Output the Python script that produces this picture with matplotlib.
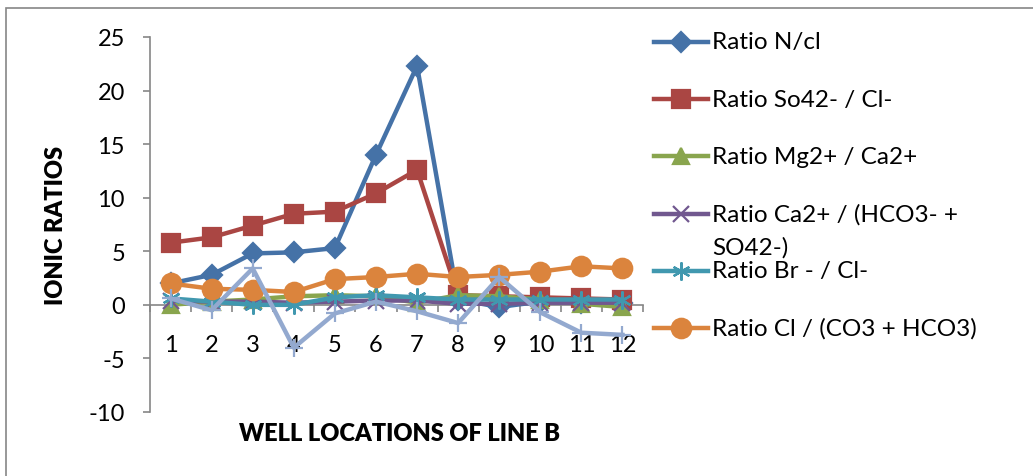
import matplotlib
matplotlib.use("Agg")
import matplotlib.pyplot as plt
from matplotlib.lines import Line2D
from matplotlib.patches import Rectangle
import numpy as np

# Well numbers along line B
wells = list(range(1, 13))

# Ionic ratios per well
ratio_n_cl = [2.0, 2.8, 4.8, 4.9, 5.3, 14.0, 22.3, 0.5, -0.2, 0.3, 0.2, 0.2]
ratio_so4_cl = [5.8, 6.3, 7.4, 8.5, 8.7, 10.4, 12.6, 0.9, 0.8, 0.7, 0.6, 0.5]
ratio_mg_ca = [0.0, 0.3, 0.5, 0.8, 0.9, 0.8, 0.2, 0.9, 0.8, 0.5, 0.1, -0.2]
ratio_ca_hco3_so4 = [0.4, 0.3, 0.3, 0.2, 0.3, 0.4, 0.4, 0.1, 0.1, 0.2, 0.2, 0.2]
ratio_br_cl = [0.6, 0.3, 0.0, 0.0, 0.7, 0.9, 0.7, 0.5, 0.5, 0.5, 0.5, 0.5]
ratio_cl_co3_hco3 = [2.0, 1.5, 1.4, 1.2, 2.4, 2.6, 2.9, 2.6, 2.8, 3.1, 3.6, 3.4]
ratio_other = [0.6, -0.5, 3.4, -4.0, -0.8, 0.3, -0.6, -1.7, 2.6, -0.7, -2.6, -2.8]

series_labels = [
    "Ratio N/cl",
    "Ratio So42- / Cl-",
    "Ratio Mg2+ / Ca2+",
    "Ratio Ca2+ / (HCO3- +\nSO42-)",
    "Ratio Br - / Cl-",
    "Ratio Cl / (CO3 + HCO3)",
]

FONT = "Lato"
plt.rcParams["font.family"] = [FONT, "DejaVu Sans"]
plt.rcParams["axes.unicode_minus"] = False

fig = plt.figure(figsize=(10.33, 4.77), dpi=100)
ax = fig.add_axes([150 / 1033, 64 / 477, 493 / 1033, 375 / 477])

styles = [
    (ratio_n_cl, "#4572A7", "D", 10),
    (ratio_so4_cl, "#AA4643", "s", 13),
    (ratio_mg_ca, "#89A54E", "^", 12),
    (ratio_ca_hco3_so4, "#71588F", "x", 11),
    (ratio_br_cl, "#4198AF", (6, 2, 0), 13),
    (ratio_cl_co3_hco3, "#DB843D", "o", 14),
    (ratio_other, "#93A9CF", "+", 13),
]

lines = []
for i, (vals, color, marker, ms) in enumerate(styles):
    ln, = ax.plot(
        wells, vals,
        color=color,
        lw=3.2,
        marker=marker,
        markersize=ms,
        markeredgewidth=1.6,
        markeredgecolor=color,
        markerfacecolor=color,
        zorder=3 + i,
        clip_on=False
    )
    lines.append(ln)

ax.set_xlim(0.5, 12.5)
ax.set_ylim(-10, 25)

# Axes styling: vertical axis on the left, category axis crossing at zero
for side in ["top", "right"]:
    ax.spines[side].set_visible(False)
ax.spines["left"].set_color("#868686")
ax.spines["bottom"].set_color("#868686")
ax.spines["bottom"].set_position(("data", 0))
ax.spines["left"].set_linewidth(1.2)
ax.spines["bottom"].set_linewidth(1.2)

ax.set_yticks(np.arange(-10, 26, 5))
ax.tick_params(axis="y", direction="out", length=5, width=1.2,
               color="#868686", pad=13, labelsize=17)
ax.set_xticks(wells)
ax.set_xticks(np.arange(0.5, 12.6, 1), minor=True)
ax.tick_params(axis="x", which="major", length=0, pad=21, labelsize=17)
ax.tick_params(axis="x", which="minor", direction="out", length=5,
               width=1.2, color="#868686")

fig.text(56 / 1033, 1 - 225 / 477, "IONIC RATIOS", rotation=90,
         ha="center", va="center", fontsize=17, fontweight="heavy")
fig.text(400 / 1033, 1 - 434 / 477, "WELL LOCATIONS OF LINE B",
         ha="center", va="center", fontsize=17, fontweight="heavy")

# Legend entries drawn beside the plot
legend_y = [43, 100, 157, 215, 272, 329]
for ln, label, y in zip(lines[:6], series_labels, legend_y):
    yf = 1 - y / 477
    fig.add_artist(Line2D([654 / 1033, 708 / 1033], [yf, yf],
                          transform=fig.transFigure,
                          color=ln.get_color(), lw=3.2))
    fig.add_artist(Line2D([681 / 1033], [yf],
                          transform=fig.transFigure,
                          color=ln.get_color(), lw=0,
                          marker=ln.get_marker(),
                          markersize=ln.get_markersize(),
                          markeredgewidth=1.6,
                          markeredgecolor=ln.get_color(),
                          markerfacecolor=ln.get_color()))
    first, _, second = label.partition("\n")
    fig.text(712 / 1033, yf, first, ha="left", va="center", fontsize=17.5)
    if second:
        fig.text(712 / 1033, 1 - (y + 33) / 477, second,
                 ha="left", va="center", fontsize=17.5)

# Chart area frame
fig.add_artist(Rectangle((6 / 1033, -0.1), 1.2, 1 - 9 / 477 + 0.1,
                         transform=fig.transFigure, fill=False,
                         edgecolor="#868686", lw=1.2))

fig.savefig("out.png", dpi=100)
